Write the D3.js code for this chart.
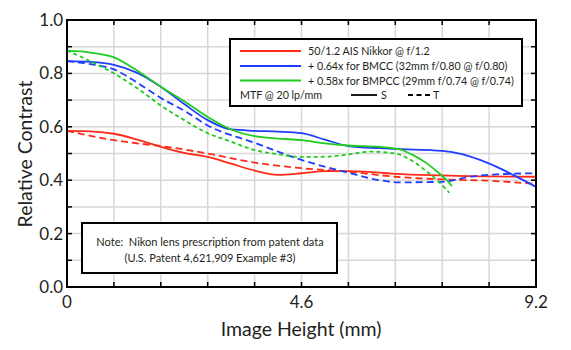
<!DOCTYPE html>
<html><head><meta charset="utf-8">
<script src="https://cdn.jsdelivr.net/npm/d3@7"></script>
<style>body{margin:0;background:#fff}svg{display:block}text{font-family:Lato,"Open Sans",sans-serif;fill:#231f20}</style>
</head><body><svg id="c" width="571" height="350"></svg>
<script>
const xDomain = [0, 9.2];
const yDomain = [0, 1];
const xTickLabels = [0, 4.6, 9.2];
const yTickLabels = [0, 0.2, 0.4, 0.6, 0.8, 1.0];
const xGrid = d3.range(0, 11).map(i => i * 0.92);
const yGrid = d3.range(0, 11).map(i => i / 10);

const redS_h = [0, 0.46, 0.92, 1.38, 1.84, 2.3, 2.76, 3.22, 3.68, 4.14, 4.6, 5.06, 5.52, 6.13, 6.44, 7.36, 8.28, 9.2];
const redS_v = [0.585, 0.583, 0.574, 0.552, 0.525, 0.502, 0.487, 0.462, 0.436, 0.42, 0.426, 0.434, 0.434, 0.428, 0.424, 0.418, 0.414, 0.413];
const redT_h = [0, 0.46, 0.92, 1.38, 1.84, 2.3, 2.76, 3.68, 4.6, 5.52, 6.44, 7.36, 8.28, 9.2];
const redT_v = [0.585, 0.566, 0.55, 0.538, 0.528, 0.515, 0.50, 0.466, 0.445, 0.432, 0.413, 0.403, 0.398, 0.386];
const blueS_h = [0, 0.46, 0.92, 1.38, 1.84, 2.3, 2.76, 3.22, 3.68, 4.14, 4.6, 5.06, 5.52, 6.13, 6.44, 7.36, 7.75, 8.1, 8.43, 8.75, 9.2];
const blueS_v = [0.846, 0.843, 0.832, 0.802, 0.75, 0.685, 0.625, 0.59, 0.585, 0.582, 0.576, 0.552, 0.528, 0.52, 0.517, 0.51, 0.498, 0.476, 0.45, 0.42, 0.375];
const blueT_h = [0, 0.46, 0.92, 1.38, 1.84, 2.3, 2.76, 3.68, 4.6, 5.52, 6.13, 6.5, 7.36, 7.9, 8.43, 9.2];
const blueT_v = [0.846, 0.835, 0.815, 0.765, 0.708, 0.66, 0.605, 0.54, 0.476, 0.428, 0.40, 0.392, 0.394, 0.413, 0.422, 0.426];
const greenS_h = [0, 0.46, 0.92, 1.38, 1.84, 2.3, 2.76, 3.22, 3.68, 4.14, 4.6, 5.06, 5.52, 6.14, 6.53, 6.79, 7.06, 7.26, 7.45, 7.55];
const greenS_v = [0.885, 0.878, 0.86, 0.81, 0.75, 0.696, 0.637, 0.59, 0.565, 0.556, 0.55, 0.538, 0.53, 0.525, 0.515, 0.494, 0.463, 0.432, 0.40, 0.378];
const greenT_h = [0, 0.23, 0.46, 0.92, 1.38, 1.84, 2.3, 2.76, 3.22, 3.68, 4.14, 4.6, 5.06, 5.52, 5.94, 6.44, 6.79, 7.06, 7.26, 7.5];
const greenT_v = [0.885, 0.866, 0.845, 0.80, 0.744, 0.68, 0.625, 0.576, 0.544, 0.513, 0.497, 0.487, 0.488, 0.496, 0.507, 0.50, 0.47, 0.432, 0.40, 0.353];

const legendLabels = ["50/1.2 AIS Nikkor @ f/1.2", "+ 0.64x for BMCC (32mm f/0.80 @ f/0.80)", "+ 0.58x for BMPCC (29mm f/0.74 @ f/0.74)"];
const colors = ["#ff2a1a", "#1f3dff", "#1fcc1f"];
const noteLines = ["Note:  Nikon lens prescription from patent data", "(U.S. Patent 4,621,909 Example #3)"];

const svg = d3.select("#c");
const L = 67, R = 536, T = 20, B = 287;
const x = d3.scaleLinear().domain(xDomain).range([L, R]);
const y = d3.scaleLinear().domain(yDomain).range([B, T]);

// grid
svg.append("g").selectAll("line").data(xGrid).join("line")
  .attr("x1", d => x(d)).attr("x2", d => x(d)).attr("y1", T).attr("y2", B)
  .attr("stroke", "#d8d8d8").attr("stroke-width", 1.5);
svg.append("g").selectAll("line").data(yGrid).join("line")
  .attr("y1", d => y(d)).attr("y2", d => y(d)).attr("x1", L).attr("x2", R)
  .attr("stroke", "#d8d8d8").attr("stroke-width", 1.5);

// inward ticks on all four sides
const tk = 5;
const tg = svg.append("g").attr("stroke", "#000").attr("stroke-width", 1.5);
xGrid.forEach(d => {
  tg.append("line").attr("x1", x(d)).attr("x2", x(d)).attr("y1", B).attr("y2", B - tk);
  tg.append("line").attr("x1", x(d)).attr("x2", x(d)).attr("y1", T).attr("y2", T + tk);
});
yGrid.forEach(d => {
  tg.append("line").attr("y1", y(d)).attr("y2", y(d)).attr("x1", L).attr("x2", L + tk);
  tg.append("line").attr("y1", y(d)).attr("y2", y(d)).attr("x1", R).attr("x2", R - tk);
});

// curves
const line = d3.line().x(d => x(d[0])).y(d => y(d[1])).curve(d3.curveMonotoneX);
const series = [
  {h: redS_h, v: redS_v, c: 0, dash: null},
  {h: redT_h, v: redT_v, c: 0, dash: "7,4"},
  {h: blueT_h, v: blueT_v, c: 1, dash: "7,4"},
  {h: blueS_h, v: blueS_v, c: 1, dash: null},
  {h: greenT_h, v: greenT_v, c: 2, dash: "4,3"},
  {h: greenS_h, v: greenS_v, c: 2, dash: null}
];
const cg = svg.append("g").attr("fill", "none");
series.forEach(s => {
  cg.append("path").datum(s.h.map((h, i) => [h, s.v[i]]))
    .attr("d", line).attr("stroke", colors[s.c]).attr("stroke-width", 1.8)
    .attr("stroke-dasharray", s.dash);
});

// frame
svg.append("rect").attr("x", L).attr("y", T).attr("width", R - L).attr("height", B - T)
  .attr("fill", "none").attr("stroke", "#000").attr("stroke-width", 2);

// tick labels
svg.append("g").selectAll("text").data(yTickLabels).join("text")
  .attr("x", L - 4).attr("y", d => y(d)).attr("dy", "0.35em").attr("text-anchor", "end")
  .attr("font-size", 17).text(d => d3.format(".1f")(d));
svg.append("g").selectAll("text").data(xTickLabels).join("text")
  .attr("x", d => x(d)).attr("y", 308).attr("text-anchor", "middle")
  .attr("font-size", 17).text(d => d === 0 ? "0" : d3.format(".1f")(d));

// axis titles
svg.append("text").attr("x", 301).attr("y", 336).attr("text-anchor", "middle")
  .attr("font-size", 19.5).text("Image Height (mm)");
svg.append("text").attr("transform", "translate(32,154) rotate(-90)").attr("text-anchor", "middle")
  .attr("font-size", 19.5).text("Relative Contrast");

// legend
const lg = svg.append("g");
lg.append("rect").attr("x", 230).attr("y", 39).attr("width", 292).attr("height", 67)
  .attr("fill", "#fff").attr("stroke", "#000").attr("stroke-width", 2);
const rowY = [51, 66, 80.5];
legendLabels.forEach((t, i) => {
  lg.append("line").attr("x1", 240).attr("x2", 301).attr("y1", rowY[i]).attr("y2", rowY[i])
    .attr("stroke", colors[i]).attr("stroke-width", 1.8);
  lg.append("text").attr("x", 308).attr("y", rowY[i] + 4).attr("font-size", 10.7).text(t);
});
lg.append("text").attr("x", 240).attr("y", 99).attr("font-size", 10.7).text("MTF @ 20 lp/mm");
lg.append("line").attr("x1", 351).attr("x2", 377).attr("y1", 95).attr("y2", 95).attr("stroke", "#000").attr("stroke-width", 1.8);
lg.append("text").attr("x", 381).attr("y", 99).attr("font-size", 10.7).text("S");
lg.append("line").attr("x1", 408).attr("x2", 430).attr("y1", 95).attr("y2", 95).attr("stroke", "#000").attr("stroke-width", 1.8).attr("stroke-dasharray", "5,3.5");
lg.append("text").attr("x", 433).attr("y", 99).attr("font-size", 10.7).text("T");

// note
const ng = svg.append("g");
ng.append("rect").attr("x", 82).attr("y", 223).attr("width", 255).attr("height", 50)
  .attr("fill", "#fff").attr("stroke", "#000").attr("stroke-width", 2);
noteLines.forEach((t, i) => {
  ng.append("text").attr("x", 210).attr("y", 246 + i * 16).attr("text-anchor", "middle")
    .attr("font-size", 11).attr("xml:space", "preserve").style("white-space", "pre").text(t);
});
</script></body></html>
